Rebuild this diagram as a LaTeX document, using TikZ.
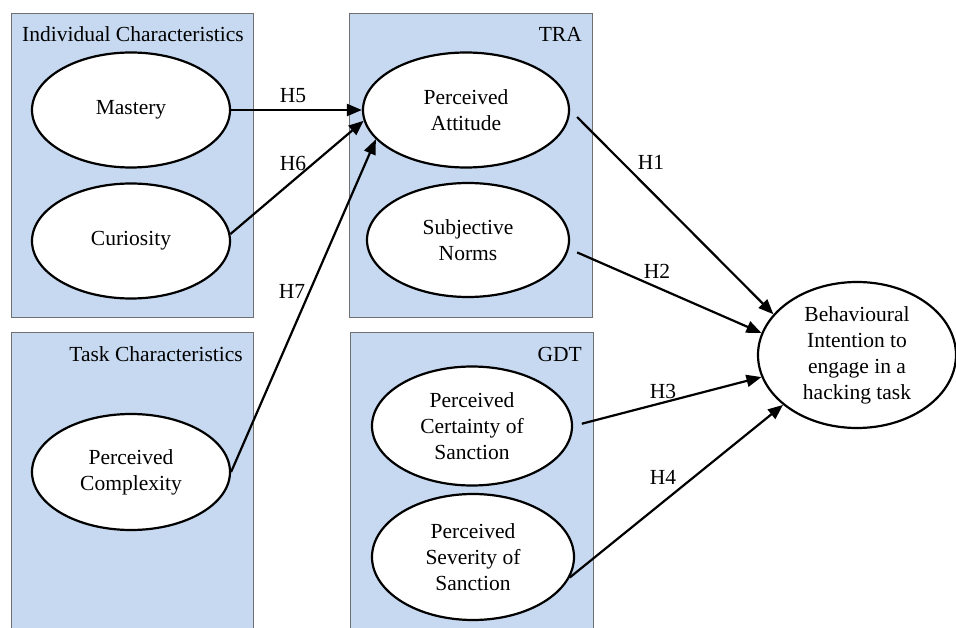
\documentclass[tikz,border=0pt]{standalone}
\usepackage{fontspec}
\setmainfont{Liberation Serif}
\usetikzlibrary{arrows.meta,shapes.geometric}
\definecolor{panel}{RGB}{198,217,240}
\definecolor{rim}{RGB}{112,112,112}

\begin{document}
\begin{tikzpicture}[x=1pt, y=-1pt, font=\rmfamily\fontsize{21.5}{26}\selectfont,
    construct/.style={ellipse, draw, line width=2.2pt, fill=white, inner sep=0pt, align=center},
    panelbox/.style={draw=rim, line width=0.9pt, fill=panel},
    link/.style={line width=2.2pt, -{Triangle[length=15pt,width=12pt]}},
    hyp/.style={inner sep=0pt}]
        \clip (0,0) rectangle (956,628);
        % panels
        \draw[panelbox] (11,13) rectangle (253,317);
        \draw[panelbox] (11,332) rectangle (253,640);
        \draw[panelbox] (349,13) rectangle (592,317);
        \draw[panelbox] (350,332) rectangle (593,640);
        \node[hyp, anchor=base west] (indiv) at (22,42) {Individual Characteristics};
        \node[hyp, anchor=base east] (task) at (243,361) {Task Characteristics};
        \node[hyp, anchor=base east] (tra) at (582,42) {TRA};
        \node[hyp, anchor=base east] (gdt) at (582,361) {GDT};
        % constructs
        \node[construct, minimum width=198pt, minimum height=115pt] (mas) at (131,110) {Mastery};
        \node[construct, minimum width=198pt, minimum height=115pt] (cur) at (131,241) {Curiosity};
        \node[construct, minimum width=198pt, minimum height=116pt] (cpx) at (131,472) {Perceived\\Complexity};
        \node[construct, minimum width=206pt, minimum height=115pt] (att) at (466,110) {Perceived\\Attitude};
        \node[construct, minimum width=202pt, minimum height=114pt] (sub) at (468,240) {Subjective\\Norms};
        \node[construct, minimum width=200pt, minimum height=119pt] (cert) at (472,426) {Perceived\\Certainty of\\Sanction};
        \node[construct, minimum width=202pt, minimum height=126pt] (sev) at (473,557) {Perceived\\Severity of\\Sanction};
        \node[construct, minimum width=198pt, minimum height=146pt] (bi) at (857,355) {Behavioural\\Intention to\\engage in a\\hacking task};
        % hypotheses
        \draw[link] (mas.east) -- (att.west);
        \draw[link] (cur.4) -- (att.186);
        \draw[link] (cpx.east) -- (att.198);
        \draw[link, shorten <=10pt] (att.east) -- (bi.154);
        \draw[link, shorten <=9pt] (sub.-5) -- (bi.167);
        \draw[link, shorten <=9pt] (cert.east) -- (bi.193);
        \draw[link] (sev.-12) -- (bi.214);
        \node[hyp] (h5) at (293,96) {H5};
        \node[hyp] (h6) at (293,163) {H6};
        \node[hyp] (h7) at (292,291) {H7};
        \node[hyp] (h1) at (651,162) {H1};
        \node[hyp] (h2) at (657,271) {H2};
        \node[hyp] (h3) at (663,391) {H3};
        \node[hyp] (h4) at (663,477) {H4};
\end{tikzpicture}
\end{document}
